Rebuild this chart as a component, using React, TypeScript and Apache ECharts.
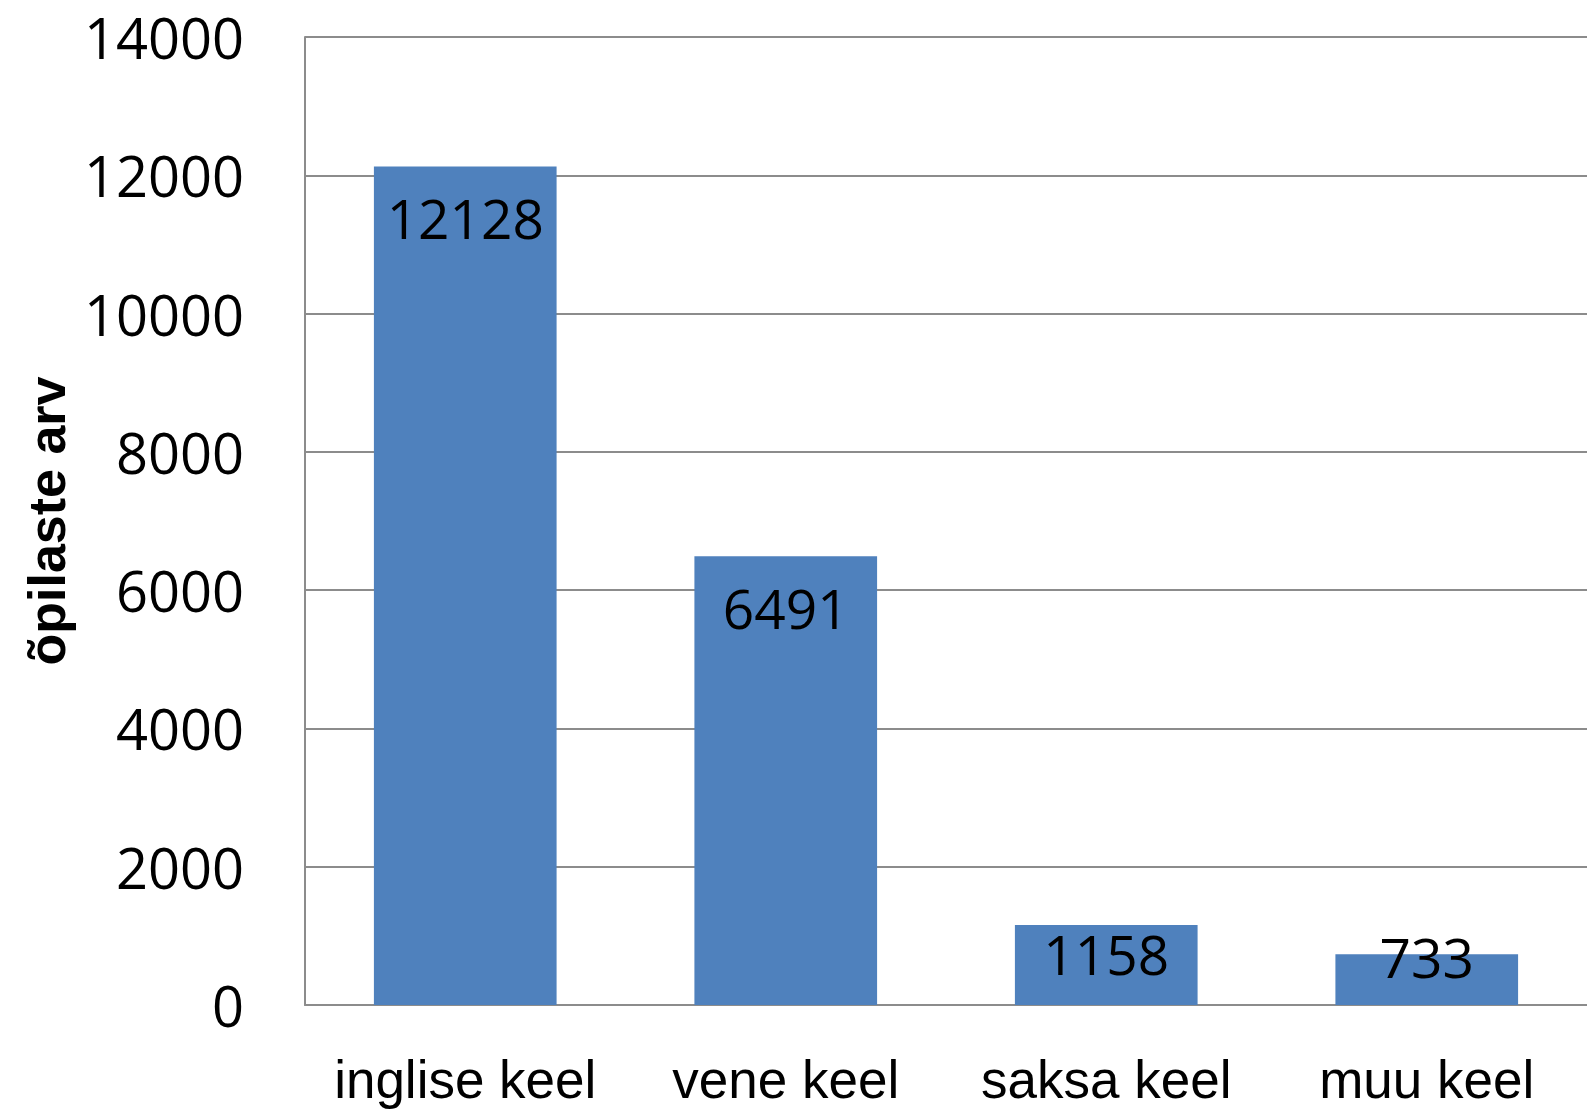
import React, { useEffect, useRef } from "react";
import * as echarts from "echarts";

const categories = ["inglise keel", "vene keel", "saksa keel", "muu keel"];
const values = [12128, 6491, 1158, 733];
const labelOffsets = [51, 51, 29, 2];
const yTitle = "õpilaste arv";

export default function App() {
  const ref = useRef<HTMLDivElement>(null);
  useEffect(() => {
    const chart = echarts.init(ref.current!, null, { renderer: "svg" });
    const gridColor = "#8c8c8c";
    chart.setOption({
      animation: false,
      backgroundColor: "#ffffff",
      grid: { left: 305, right: 0, top: 37, bottom: 109, containLabel: false },
      xAxis: {
        type: "category",
        data: categories,
        axisLine: { show: true, lineStyle: { color: gridColor, width: 2 } },
        axisTick: { show: false },
        axisLabel: {
          interval: 0,
          color: "#000",
          fontFamily: "'Liberation Sans', Arial, sans-serif",
          fontSize: 53,
          margin: 48,
        },
      },
      yAxis: {
        type: "value",
        min: 0,
        max: 14000,
        interval: 2000,
        name: yTitle,
        nameLocation: "middle",
        nameGap: 222,
        nameTextStyle: {
          color: "#000",
          fontFamily: "'Liberation Sans', Arial, sans-serif",
          fontWeight: "bold",
          fontSize: 52,
        },
        axisLine: { show: true, lineStyle: { color: gridColor, width: 2 } },
        axisTick: { show: false },
        splitLine: { show: true, lineStyle: { color: gridColor, width: 2 } },
        axisLabel: {
          color: "#000",
          fontFamily: "'Open Sans', 'Noto Sans', sans-serif",
          fontSize: 56,
          margin: 61,
          padding: [0, 0, 7, 0],
          formatter: (v: number) => String(v),
        },
      },
      series: [
        {
          type: "bar",
          data: values.map((v, i) => ({
            value: v,
            label: { position: ["50%", labelOffsets[i]] },
          })),
          barWidth: "57%",
          itemStyle: { color: "#4F81BD" },
          label: {
            show: true,
            align: "center",
            verticalAlign: "middle",
            color: "#000",
            fontFamily: "'Open Sans', 'Noto Sans', sans-serif",
            fontSize: 55,
          },
        },
      ],
    });
    return () => chart.dispose();
  }, []);
  return (
    <div
      ref={ref}
      style={{ position: "fixed", left: 0, top: 0, width: 1587, height: 1114, background: "#fff" }}
    />
  );
}
